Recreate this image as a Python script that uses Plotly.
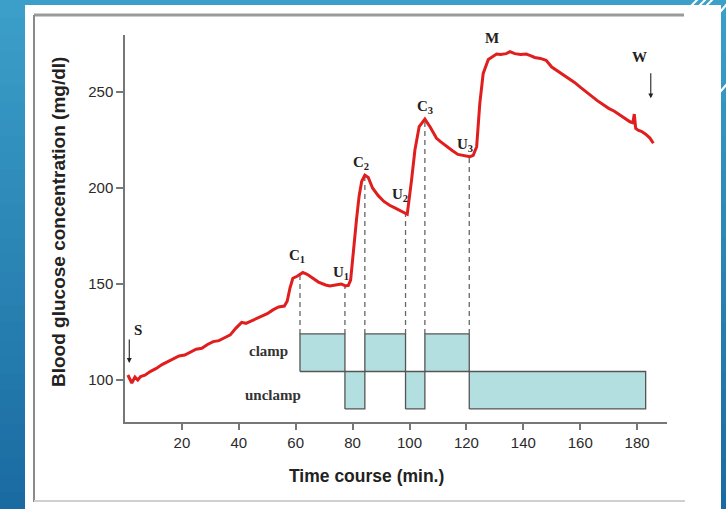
import numpy as np
import plotly.graph_objects as go

W, H = 726, 509

# ---------------- data ----------------
time_min = [1, 1.8, 2.4, 3.5, 4.5, 5.5, 7, 9, 11, 13, 15, 17, 19, 21, 23, 25, 27, 29, 31, 33,
            35, 37, 39, 41, 42.5, 44, 46, 48, 50, 52, 54, 56, 57, 58, 59, 60.5, 62.5, 64, 66, 68,
            70.5, 72, 74, 76, 77.5, 78.5, 79.3, 79.8, 80.8, 81.4, 82.3, 83.2, 84.3, 85.5, 87, 89,
            91, 93, 95, 97, 99.2, 100.7, 101.9, 103.4, 105.4, 107.2, 109.5, 111, 113, 115, 117,
            119, 121.2, 122.4, 123.6, 124.7, 125.9, 127.7, 130.6, 132, 134, 135.3, 137, 139, 141,
            142.5, 144, 146, 148, 150, 152, 154, 156, 158, 160, 162, 164, 166, 168, 170, 172, 174,
            176, 177.5, 178.5, 179, 179.5, 180.5, 181.5, 183, 184.5, 185.7]
glucose = [102.6, 100, 98.4, 101.5, 100, 101.8, 102.5, 104.5, 106, 108, 109.5, 111, 112.5, 113,
           114.5, 116, 116.5, 118.5, 120, 120.5, 122, 123.5, 127, 130, 129.5, 130.5, 132, 133,
           134.5, 136.5, 138, 138.5, 141, 148, 153, 154, 156, 155, 153, 151, 149.5, 149, 149.5,
           150, 149, 149.3, 152, 160, 177, 184, 196, 203.5, 206.7, 205.5, 200, 196, 193, 191,
           189.5, 188, 186.3, 204, 219.8, 232, 235.9, 231.9, 225.9, 224, 221.5, 219.5, 217.5,
           217, 216.3, 217, 221.5, 244, 259.7, 267, 269.8, 269.5, 270, 271, 270, 269.5, 269.8,
           269, 268, 267.5, 266.5, 263, 261, 259, 257, 255, 252.5, 250, 248, 245.5, 243.5, 241.5,
           240, 238, 236, 234.5, 234, 238.5, 231, 230, 229.5, 228, 226, 223.3]

# clamp / unclamp periods (min)
clamp_periods = [(61.5, 77.3), (84.3, 98.6), (105.4, 121.0)]
unclamp_periods = [(77.3, 84.3), (98.6, 105.4), (121.0, 183.0)]
switch_times = [61.5, 77.3, 84.3, 98.6, 105.4, 121.0]
clamp_band = (104.4, 124.0)
unclamp_band = (84.9, 104.4)

point_labels = ["C<sub>1</sub>", "U<sub>1</sub>", "C<sub>2</sub>", "U<sub>2</sub>",
                "C<sub>3</sub>", "U<sub>3</sub>", "M"]
point_label_x = [60.5, 75.9, 83.0, 96.7, 105.4, 119.5, 129.0]
point_label_y = [164.6, 155.7, 213.0, 196.4, 242.4, 222.4, 278.0]

x_ticks = [20, 40, 60, 80, 100, 120, 140, 160, 180]
y_ticks = [100, 150, 200, 250]

# ---------------- figure ----------------
fig = go.Figure()

fill_col = "#b4dfe0"
edge_col = "#555555"

def rect(x0, x1, y0, y1):
    return [x0, x1, x1, x0, x0], [y0, y0, y1, y1, y0]

for (a, b) in clamp_periods:
    xs, ys = rect(a, b, clamp_band[0], clamp_band[1])
    fig.add_trace(go.Scatter(x=xs, y=ys, mode="lines", fill="toself", fillcolor=fill_col,
                             line=dict(color=edge_col, width=1.3), hoverinfo="skip",
                             showlegend=False))
for (a, b) in unclamp_periods:
    xs, ys = rect(a, b, unclamp_band[0], unclamp_band[1])
    fig.add_trace(go.Scatter(x=xs, y=ys, mode="lines", fill="toself", fillcolor=fill_col,
                             line=dict(color=edge_col, width=1.3), hoverinfo="skip",
                             showlegend=False))

tops = np.interp(switch_times, time_min, glucose)
for t, top in zip(switch_times, tops):
    fig.add_trace(go.Scatter(x=[t, t], y=[clamp_band[1], top], mode="lines",
                             line=dict(color="#666666", width=1.3, dash="5px,4px"),
                             hoverinfo="skip", showlegend=False))

fig.add_trace(go.Scatter(x=time_min, y=glucose, mode="lines",
                         line=dict(color="#e01e1e", width=3, shape="linear"),
                         showlegend=False))

# ---------------- annotations ----------------
ser = dict(family="Liberation Serif", size=15, color="#222222")
ann = []
for txt, x, y in zip(point_labels, point_label_x, point_label_y):
    ann.append(dict(x=x, y=y, xref="x", yref="y", text="<b>%s</b>" % txt, showarrow=False,
                    font=ser))
ann.append(dict(x=4.6, y=126, xref="x", yref="y", text="<b>S</b>", showarrow=False, font=ser))
ann.append(dict(x=181, y=268, xref="x", yref="y", text="<b>W</b>", showarrow=False, font=ser))
ann.append(dict(x=1.5, y=108.9, ax=1.5, ay=121.9, xref="x", yref="y", axref="x", ayref="y",
                text="", showarrow=True, arrowhead=2, arrowsize=0.9, arrowwidth=1.1,
                arrowcolor="#222222", standoff=0))
ann.append(dict(x=184.8, y=246.7, ax=184.8, ay=260.5, xref="x", yref="y", axref="x", ayref="y",
                text="", showarrow=True, arrowhead=2, arrowsize=0.9, arrowwidth=1.1,
                arrowcolor="#222222", standoff=0))
ann.append(dict(x=50.6, y=115.1, xref="x", yref="y", text="<b>clamp</b>", showarrow=False,
                font=dict(family="Liberation Serif", size=15, color="#333333")))
ann.append(dict(x=52.0, y=92.2, xref="x", yref="y", text="<b>unclamp</b>", showarrow=False,
                font=dict(family="Liberation Serif", size=15, color="#333333")))
# axis titles
ann.append(dict(x=366 / W, y=1 - 476 / H, xref="paper", yref="paper", xanchor="center",
                yanchor="middle", text="<b>Time course (min.)</b>", showarrow=False,
                font=dict(family="Liberation Sans", size=17.5, color="#222222")))
ann.append(dict(x=58 / W, y=1 - 222 / H, xref="paper", yref="paper", textangle=-90,
                xanchor="center", yanchor="middle",
                text="<b>Blood glucose concentration (mg/dl)</b>", showarrow=False,
                font=dict(family="Liberation Sans", size=19, color="#222222")))

# ---------------- background decoration ----------------
shapes = []
n_bands = 30
top_rgb = np.array([0x3c, 0xa0, 0xca])
bot_rgb = np.array([0x1a, 0x6b, 0xa1])
for i in range(n_bands):
    f = (i + 0.5) / n_bands
    c = (top_rgb * (1 - f) + bot_rgb * f).astype(int)
    shapes.append(dict(type="rect", xref="paper", yref="paper", x0=0, x1=1,
                       y0=1 - (i + 1) / n_bands - 0.002, y1=1 - i / n_bands,
                       fillcolor="rgb(%d,%d,%d)" % tuple(c), line=dict(width=0), layer="below"))

def px(x):
    return x / W

def py(y):
    return 1 - y / H

# white panel
shapes.append(dict(type="rect", xref="paper", yref="paper", x0=px(25), x1=px(721),
                   y0=py(509), y1=py(5), fillcolor="white", line=dict(width=0), layer="below"))
# blue top-right corner region with white slashes
shapes.append(dict(type="path", xref="paper", yref="paper",
                   path="M %f,%f L %f,%f L %f,%f L %f,%f Z" % (px(687), py(5), px(726), py(5),
                                                               px(726), py(0), px(687), py(0)),
                   fillcolor="rgb(60,160,202)", line=dict(width=0), layer="below"))
for (x0, y0, x1, y1) in [(689, 8, 698, -1), (697, 8, 706, -1), (704, 8, 713, -1),
                         (720, 12, 727, 4), (720, 92, 727, 84)]:
    shapes.append(dict(type="line", xref="paper", yref="paper", x0=px(x0), y0=py(y0),
                       x1=px(x1), y1=py(y1), line=dict(color="white", width=2), layer="below"))
# gray frame of embedded picture
shapes.append(dict(type="line", xref="paper", yref="paper", x0=px(34), x1=px(684),
                   y0=py(15), y1=py(15), line=dict(color="#9a9a9a", width=3), layer="below"))
shapes.append(dict(type="line", xref="paper", yref="paper", x0=px(34), x1=px(34),
                   y0=py(15), y1=py(502), line=dict(color="#8a8a8a", width=2), layer="below"))
shapes.append(dict(type="line", xref="paper", yref="paper", x0=px(34), x1=px(685),
                   y0=py(501), y1=py(501), line=dict(color="#d0d0d0", width=2), layer="below"))

axis_col = "#777777"
tickfont = dict(family="Liberation Sans", size=15, color="#2a2a2a")
fig.update_layout(
    width=W, height=H,
    margin=dict(l=0, r=0, t=0, b=0),
    paper_bgcolor="rgb(40,135,185)",
    plot_bgcolor="rgba(0,0,0,0)",
    shapes=shapes,
    annotations=ann,
    xaxis=dict(domain=[125 / W, 667 / W], range=[0, 190.5], showgrid=False, zeroline=False,
               showline=True, linecolor=axis_col, linewidth=1.5, ticks="outside", ticklen=6,
               tickwidth=1.5, tickcolor=axis_col, tickvals=x_ticks, tickfont=tickfont),
    yaxis=dict(domain=[1 - 422 / H, 1 - 35 / H], range=[78.1, 279.7], showgrid=False,
               zeroline=False, showline=True, linecolor=axis_col, linewidth=1.5,
               ticks="outside", ticklen=7, tickwidth=1.5, tickcolor=axis_col, tickvals=y_ticks,
               tickfont=tickfont),
)

fig.write_html("out.html")
